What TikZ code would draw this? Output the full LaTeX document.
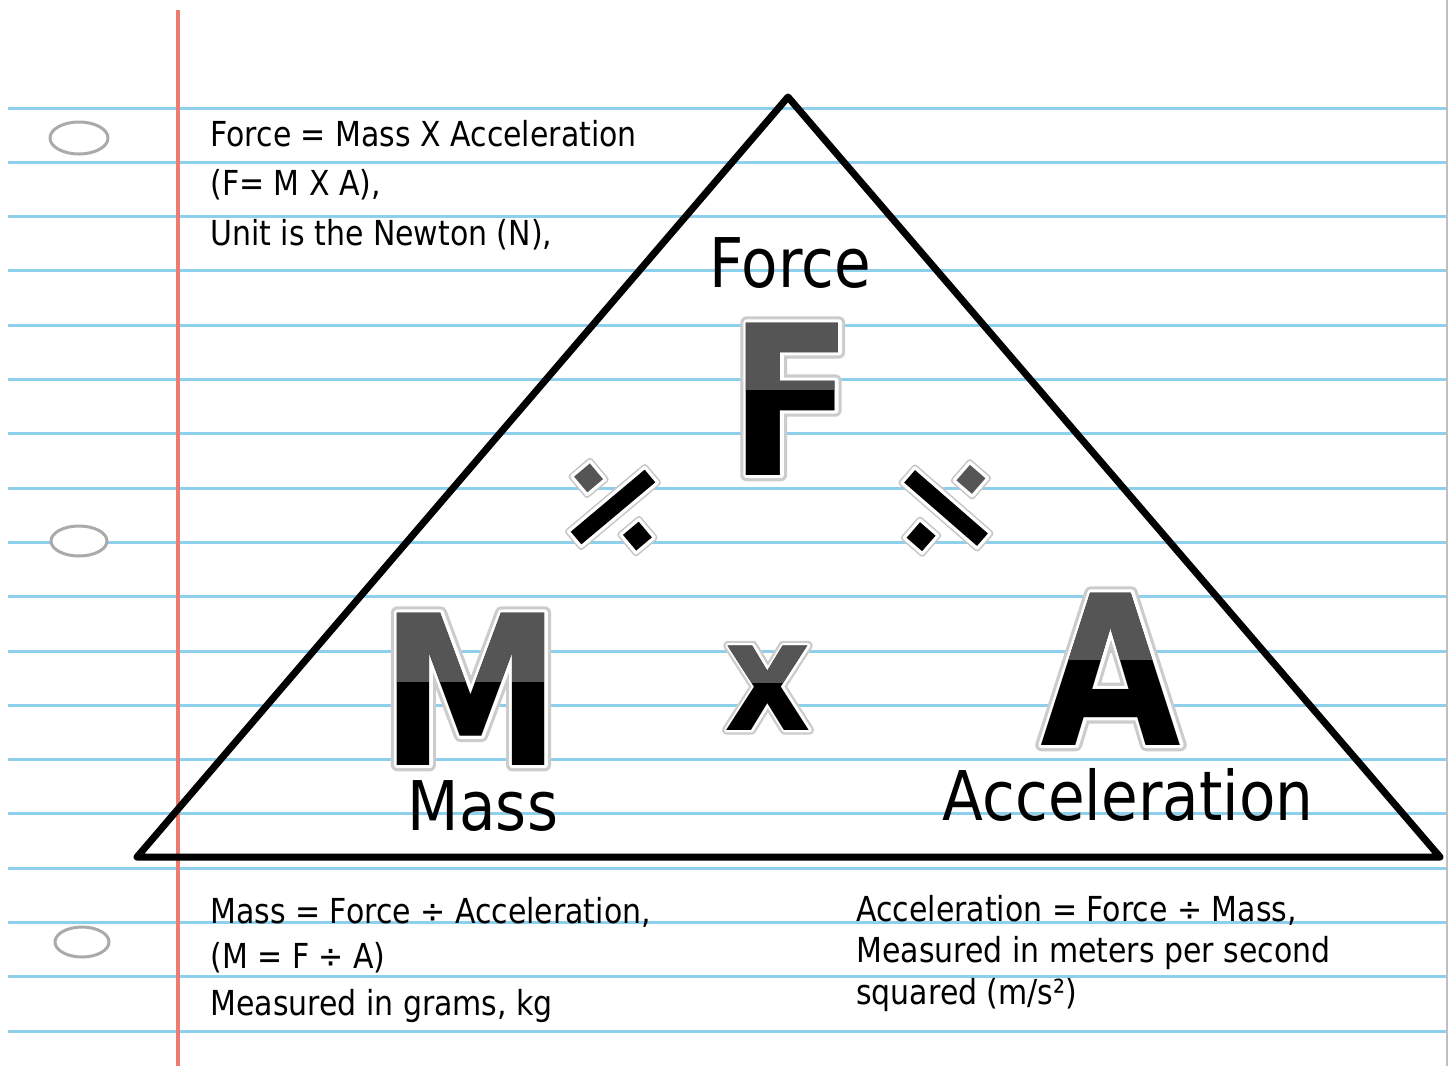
\documentclass[tikz,border=0pt]{standalone}
\usepackage{fontspec}
\setmainfont[FakeStretch=0.87]{DejaVu Sans}
\newfontfamily\rimfont[FakeStretch=0.87,FakeBold=3]{DejaVu Sans Bold}
\newfontfamily\glowfont[FakeStretch=0.87,FakeBold=6]{DejaVu Sans Bold}
\usepackage{tikz}
\usetikzlibrary{calc}
\definecolor{ruleblue}{RGB}{142,208,236}
\definecolor{marginred}{RGB}{236,124,114}
\definecolor{holegray}{RGB}{170,170,170}
\definecolor{topgray}{RGB}{85,85,85}

% big two-tone letter: name, x, baseline, split, size, glyph, half width, top
\newcommand{\twotone}[8]{%
  \node[glyph,font=\fontsize{#5}{#5}\glowfont,text=black!20] (#1-glow) at (#2,#3) {#6};
  \node[glyph,font=\fontsize{#5}{#5}\rimfont,text=white] (#1-rim) at (#2,#3) {#6};
  \node[glyph,font=\fontsize{#5}{#5}\selectfont\bfseries] (#1) at (#2,#3) {#6};
  \fill[topgray,blend mode=lighten] (#2-#7,#8) rectangle (#2+#7,#4);}

\begin{document}
\begin{tikzpicture}[x=0.02cm,y=-0.02cm,line join=round]
\tikzstyle{rule}=[ruleblue,line width=0.06cm]
\tikzstyle{note}=[font=\fontsize{19.6}{24}\selectfont,anchor=base west,inner sep=0pt]
\tikzstyle{label}=[font=\fontsize{39}{44}\selectfont,anchor=base,inner sep=0pt]
\tikzstyle{glyph}=[anchor=base,inner sep=0pt]
\tikzstyle{divpart}=[preaction={draw=black!22,line width=3.6pt},draw=white,line width=1.8pt]
\tikzstyle{hole}=[draw=holegray,line width=0.06cm,fill=white]
\useasboundingbox (0,0) rectangle (1450,1066);
\fill[white] (0,0) rectangle (1450,1066);

% ruled paper
\foreach \i in {0,...,17}
  \draw[rule] (8,108+54.3*\i) -- (1446,108+54.3*\i);
\draw[marginred,line width=0.08cm] (178,10) -- (178,1066);
\draw[black!25,line width=0.03cm] (1447,0) -- (1447,1066);
\draw[hole] (79,138) ellipse [x radius=29,y radius=16];
\draw[hole] (79,541) ellipse [x radius=28,y radius=15];
\draw[hole] (82,942) ellipse [x radius=27,y radius=15];

% triangle
\coordinate (apex) at (788,97);
\coordinate (left) at (137,857);
\coordinate (right) at (1440,857);
\draw[line width=0.14cm] (apex) -- (right) -- (left) -- cycle;

% letters
\twotone{F}{792}{475}{390}{119}{F}{62}{316}
\twotone{M}{471}{765}{682}{119}{M}{86}{606}
\twotone{A}{1111}{745}{660}{119}{A}{78}{586}
\twotone{times}{768}{730}{683}{88}{x}{48}{638}

% divide signs
\begin{scope}[shift={(613,507)},rotate=40]
  \path[divpart,fill=black] (-50,-10) rectangle (50,10);
  \path[divpart,fill=topgray] (-12,-50) rectangle (12,-26);
  \path[divpart,fill=black] (-12,26) rectangle (12,50);
\end{scope}
\begin{scope}[shift={(946,508)},rotate=-41]
  \path[divpart,fill=black] (-50,-10) rectangle (50,10);
  \path[divpart,fill=topgray] (-12,-50) rectangle (12,-26);
  \path[divpart,fill=black] (-12,26) rectangle (12,50);
\end{scope}

\node[label] (force) at (790,287) {Force};
\node[label] (mass) at (483,830) {Mass};
\node[label] (accel) at (1128,820) {Acceleration};

% notes
\node[note] (f1) at (210,146) {Force = Mass X Acceleration};
\node[note] (f2) at (210,195) {(F= M X A),};
\node[note] (f3) at (210,245) {Unit is the Newton (N),};
\node[note] (m1) at (210,923) {Mass = Force ÷ Acceleration,};
\node[note] (m2) at (210,968) {(M = F ÷ A)};
\node[note] (m3) at (210,1015) {Measured in grams, kg};
\node[note] (a1) at (856,921) {Acceleration = Force ÷ Mass,};
\node[note] (a2) at (856,962) {Measured in meters per second};
\node[note] (a3) at (856,1004) {squared (m/s²)};
\end{tikzpicture}
\end{document}
